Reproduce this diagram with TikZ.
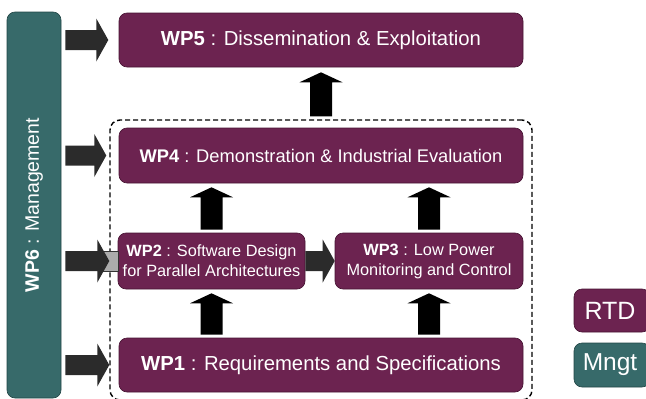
\documentclass[tikz,border=0pt]{standalone}
\usepackage{fontspec}
\setmainfont{Liberation Sans}
\usetikzlibrary{calc}
\definecolor{rtdc}{RGB}{108,35,80}
\definecolor{rtdb}{RGB}{70,20,50}
\definecolor{mngc}{RGB}{55,106,106}
\definecolor{mngb}{RGB}{35,70,70}
\definecolor{harr}{RGB}{43,43,43}
\tikzset{
  rtdbox/.style={draw=rtdb, line width=0.6pt, fill=rtdc, rounded corners=8pt, text=white, inner sep=0pt, align=center},
  mngbox/.style={draw=mngb, line width=0.6pt, fill=mngc, rounded corners=8pt, text=white, inner sep=0pt, align=center},
  bigtxt/.style={font=\fontsize{20.3}{24}\selectfont},
  midtxt/.style={font=\fontsize{18.3}{22}\selectfont},
  smalltxt/.style={font=\fontsize{16.3}{20}\selectfont},
  uparr/.style 2 args={to path={let \p1=(\tikztostart),\p2=(\tikztotarget) in
    (\x1-11pt,\y1+#1) -- (\x1-11pt,\y2-#2-10pt) -- (\x1-21.5pt,\y2-#2-10pt) -- (\x1,\y2-#2)
    -- (\x1+21.5pt,\y2-#2-10pt) -- (\x1+11pt,\y2-#2-10pt) -- (\x1+11pt,\y1+#1) -- cycle}},
  rarr/.style 2 args={to path={let \p1=(\tikztostart),\p2=(\tikztotarget) in
    (\x1+#1,\y1-10pt) -- (\x2-#2-12pt,\y1-10pt) -- (\x2-#2-12pt,\y1-21.5pt) -- (\x2-#2,\y1)
    -- (\x2-#2-12pt,\y1+21.5pt) -- (\x2-#2-12pt,\y1+10pt) -- (\x1+#1,\y1+10pt) -- cycle}},
  blkfill/.style={fill=black},
  hfill/.style={fill=harr},
}
\begin{document}
\begin{tikzpicture}[x=1pt,y=-1pt]
\useasboundingbox (0,0) rectangle (646,399);
% dashed frame
\node[draw, dash pattern=on 5pt off 3pt, line width=1.4pt, rounded corners=10pt,
      minimum width=422pt, minimum height=280pt, inner sep=0pt] (dash) at (321,260) {};
% management bar
\node[mngbox, minimum width=54pt, minimum height=386pt] (wp6) at (34,205)
  {\rotatebox{90}{\fontsize{19.5}{23}\selectfont\textbf{WP6} : Management}};
% work packages
\node[rtdbox, bigtxt, minimum width=404pt, minimum height=54pt] (wp5) at (321,40)
  {\textbf{WP5} : Dissemination \& Exploitation};
\node[rtdbox, midtxt, minimum width=404pt, minimum height=55pt] (wp4) at (321,155.5)
  {\textbf{WP4} : Demonstration \& Industrial Evaluation};
\node[rtdbox, smalltxt, minimum width=187pt, minimum height=56pt] (wp2) at (211.5,261)
  {\textbf{WP2} : Software Design\\for Parallel Architectures};
\node[rtdbox, smalltxt, minimum width=188pt, minimum height=56pt] (wp3) at (429,261)
  {\textbf{WP3} : Low Power\\Monitoring and Control};
\node[rtdbox, bigtxt, minimum width=404pt, minimum height=54pt] (wp1) at (321,365)
  {\textbf{WP1} : Requirements and Specifications};
% legend
\node[rtdbox, minimum width=76pt, minimum height=43pt, font=\fontsize{25}{29}\selectfont] (rtd) at (612,310.5) {RTD\hspace*{4pt}};
\node[mngbox, minimum width=76pt, minimum height=44pt, font=\fontsize{24.5}{29}\selectfont] (mngt) at (612,365) {Mngt\hspace*{4pt}};
% gray extension into WP2
\fill[gray!65, draw=gray!40!black, line width=0.4pt] ($(dash.west |- wp2.west)+(-6pt,-10pt)$) rectangle ($(wp2.west)+(0,10pt)$);
% management arrows
\path[hfill] (wp6.east |- wp5.west) to[rarr={4pt}{1pt}] (dash.west |- wp5.west);
\path[hfill] (wp6.east |- wp4.west) to[rarr={4pt}{3pt}] (dash.west |- wp4.west);
\path[hfill] (wp6.east |- wp2.west) to[rarr={4pt}{0pt}] (dash.west |- wp2.west);
\path[hfill] (wp6.east |- wp1.west) to[rarr={4pt}{0pt}] (dash.west |- wp1.west);
% WP2 -> WP3
\path[hfill] (wp2.east) to[rarr={0pt}{0pt}] (wp3.west);
% upward arrows
\path[blkfill] (wp1.north -| wp2.south) to[uparr={3pt}{4pt}] (wp2.south);
\path[blkfill] (wp1.north -| wp3.south) to[uparr={3pt}{4pt}] (wp3.south);
\path[blkfill] (wp2.north) to[uparr={3pt}{4pt}] (wp4.south -| wp2.north);
\path[blkfill] (wp3.north) to[uparr={3pt}{4pt}] (wp4.south -| wp3.north);
\path[blkfill] (dash.north) to[uparr={3pt}{5pt}] (wp5.south);
\end{tikzpicture}
\end{document}
